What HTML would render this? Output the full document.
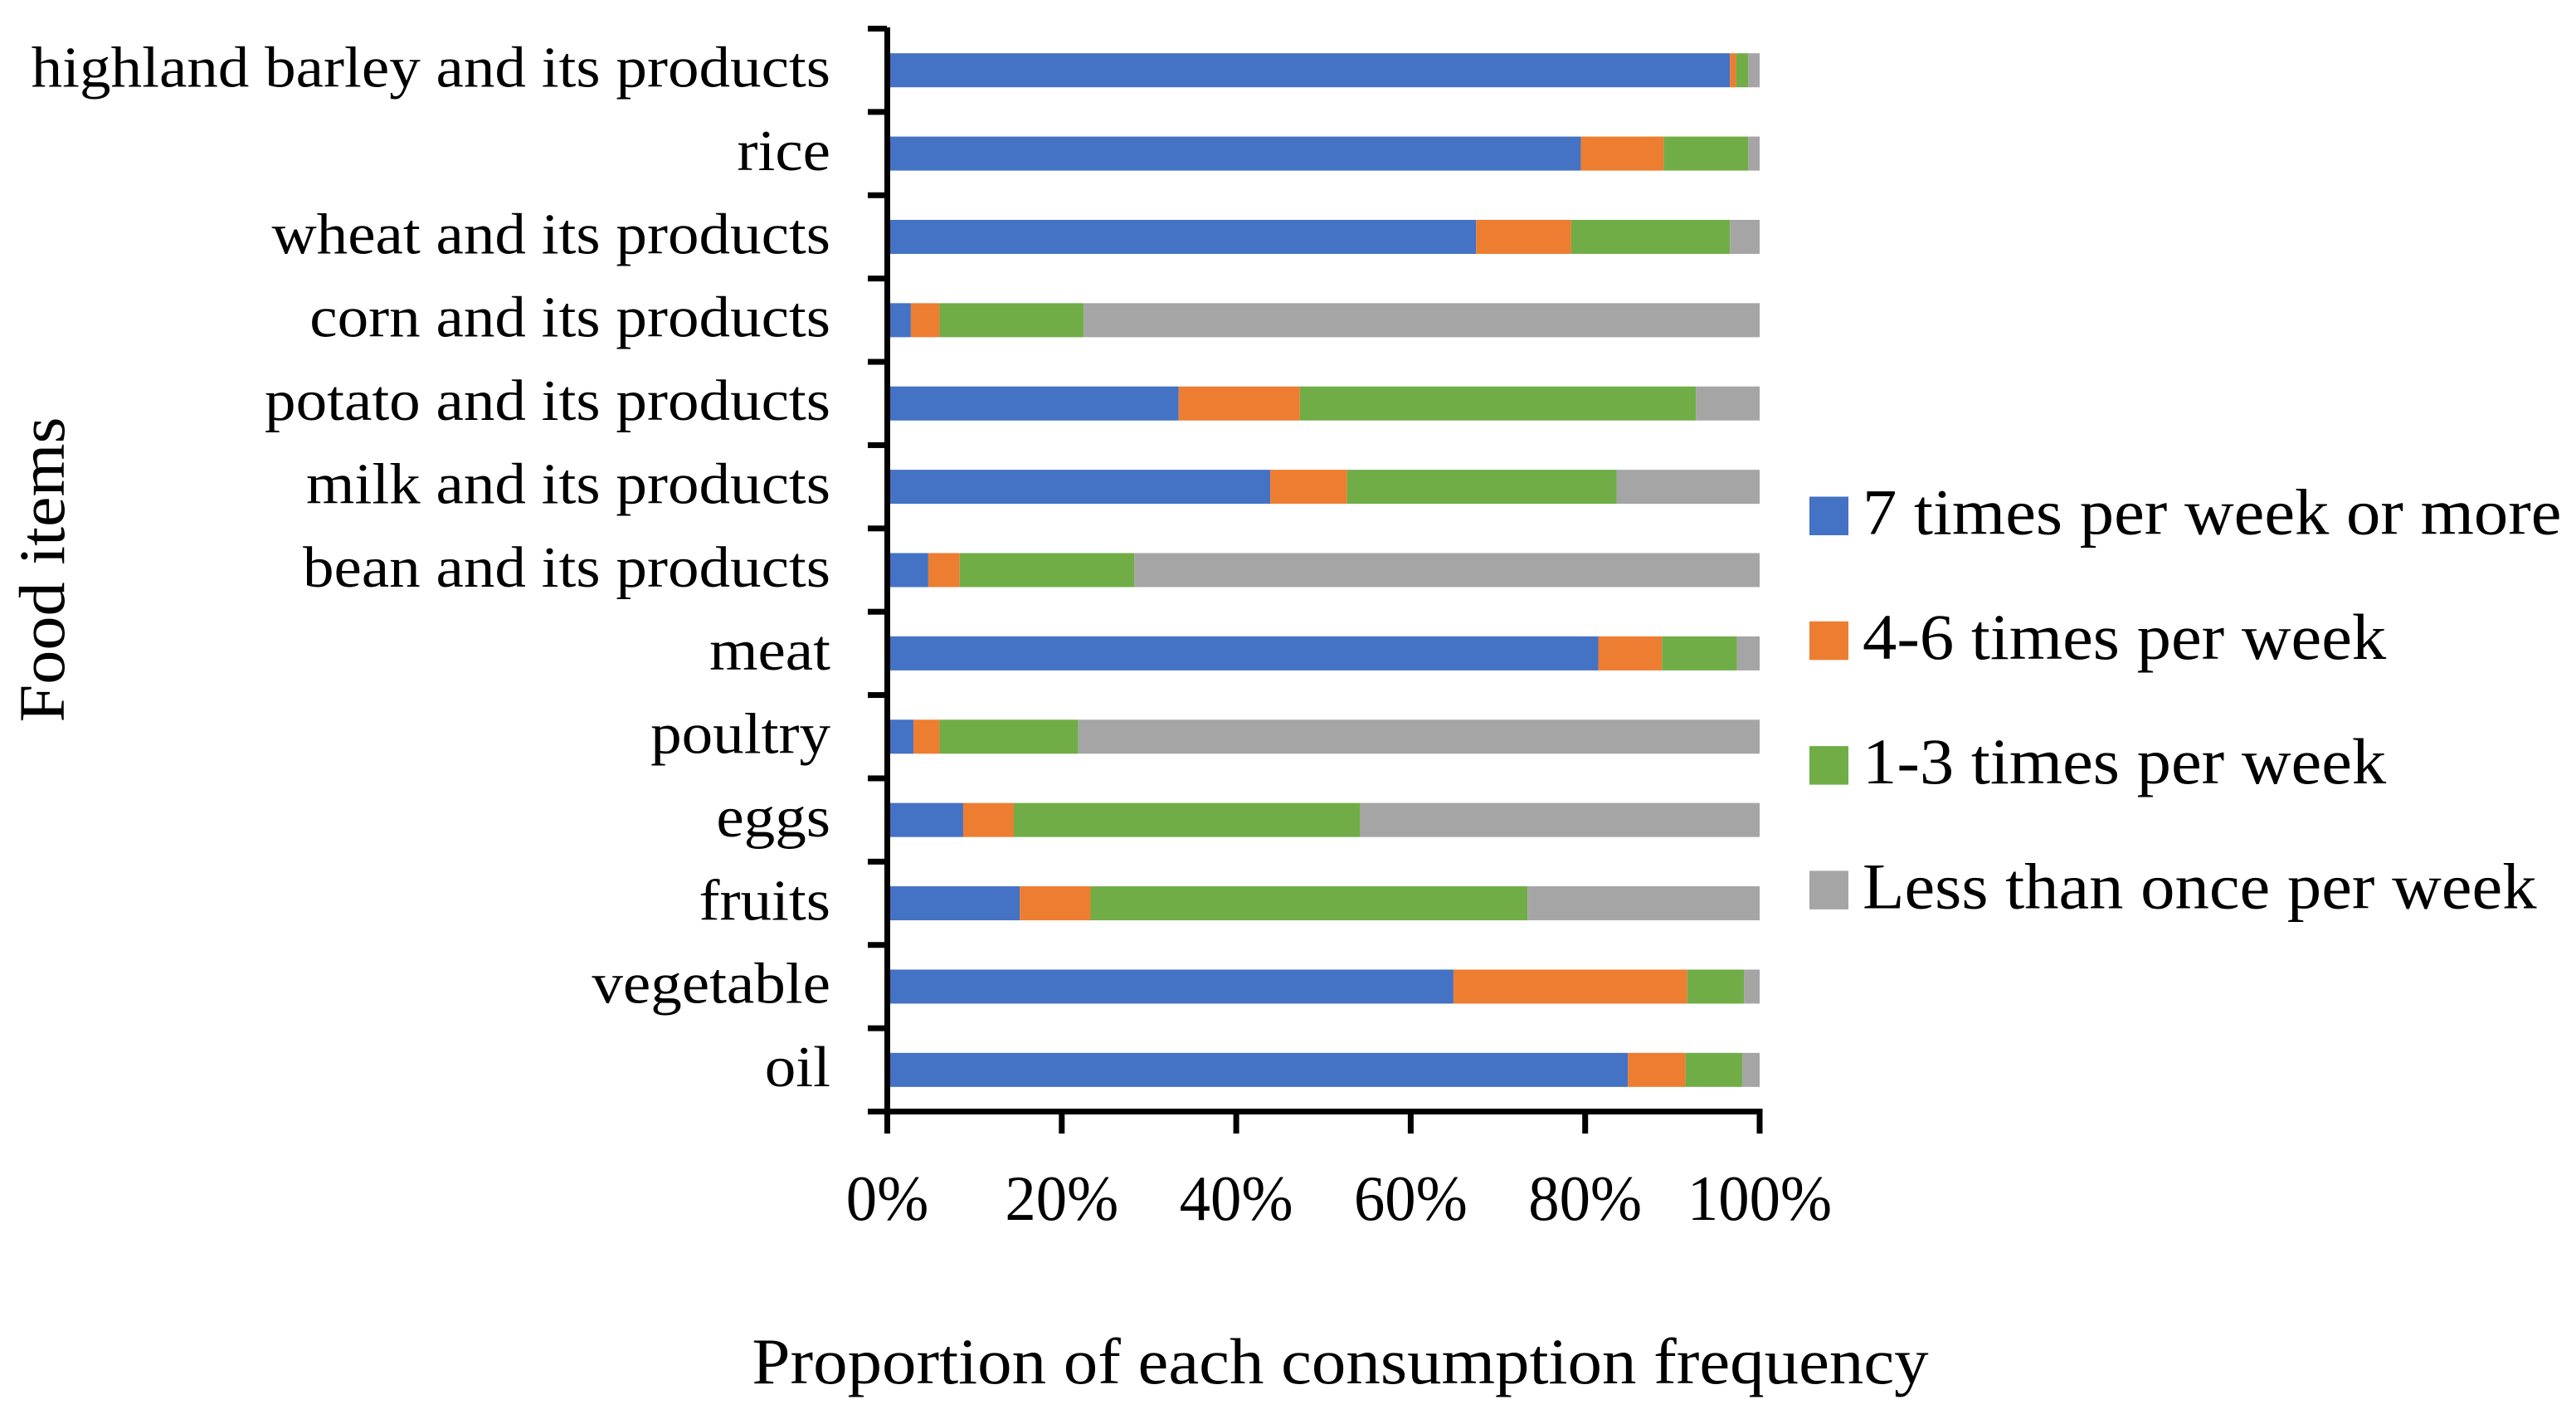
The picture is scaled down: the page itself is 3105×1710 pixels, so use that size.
<!DOCTYPE html>
<html lang="en">
<head>
<meta charset="utf-8">
<title>Food consumption frequency</title>
<style>
html,body{margin:0;padding:0;background:#fff;}
#chart{display:block;width:3105px;height:1710px;background:#fff;}
text{font-family:"Liberation Serif",serif;fill:#000;}
</style>
</head>
<body>
<svg id="chart" xmlns="http://www.w3.org/2000/svg" width="3105" height="1710" viewBox="0 0 3105 1710"></svg>
<script>
const categories = ["highland barley and its products","rice","wheat and its products","corn and its products","potato and its products","milk and its products","bean and its products","meat","poultry","eggs","fruits","vegetable","oil"];
const seriesNames = ["7 times per week or more","4-6 times per week","1-3 times per week","Less than once per week"];
const sevenPlus = [96.6,79.5,67.5,2.7,33.4,43.9,4.7,81.5,3.0,8.7,15.2,64.9,84.9];
const fourToSix = [0.7,9.5,10.9,3.3,13.9,8.8,3.6,7.3,3.0,5.8,8.1,26.8,6.6];
const oneToThree = [1.4,9.7,18.2,16.5,45.4,30.9,20.0,8.6,15.9,39.7,50.1,6.5,6.5];
const lessThanOnce = [1.3,1.3,3.4,77.5,7.3,16.4,71.7,2.6,78.1,45.8,26.6,1.8,2.0];
const xTickValues = [0,20,40,60,80,100];
const xTickLabels = ["0%","20%","40%","60%","80%","100%"];

const svg = document.getElementById('chart');
const NS = 'http://www.w3.org/2000/svg';
const seriesValues = [sevenPlus, fourToSix, oneToThree, lessThanOnce];
const seriesColors = ['#4472C4','#ED7D31','#70AD47','#A5A5A5'];
const plot = {left:1069.5, right:2121, top:34.5, bottom:1339.5};
function xScale(v){ return plot.left + (plot.right - plot.left) * v / 100; }
function bandStart(i){ return plot.top + (plot.bottom - plot.top) * i / categories.length; }
const bandH = (plot.bottom - plot.top) / categories.length;
const barH = 41;

function rect(x,y,w,h,fill){
  const r = document.createElementNS(NS,'rect');
  r.setAttribute('x',x); r.setAttribute('y',y);
  r.setAttribute('width',w); r.setAttribute('height',h);
  r.setAttribute('fill',fill);
  svg.appendChild(r);
  return r;
}
function label(str,x,y,size,kx,anchor,rotate){
  const t = document.createElementNS(NS,'text');
  t.textContent = str;
  t.setAttribute('font-size',size);
  t.setAttribute('text-anchor',anchor);
  t.setAttribute('transform','translate('+x+' '+y+')'+(rotate?' rotate('+rotate+')':'')+' scale('+kx+' 1)');
  svg.appendChild(t);
  return t;
}

// stacked bars
categories.forEach(function(cat,i){
  let acc = 0;
  seriesValues.forEach(function(vals,s){
    const x0 = xScale(acc);
    acc += vals[i];
    const x1 = xScale(acc);
    const y = bandStart(i) + (bandH - barH) / 2;
    const bar = rect(x0,y,x1-x0,barH,seriesColors[s]);
    
    
  });
});

// y axis
const yAxis = rect(1066,33,7,1310,'#000');


for(let i=0;i<=categories.length;i++){
  const tick = rect(1046,bandStart(i)-3.5,23,7,'#000');
  
  
}

// x axis
const xAxis = rect(1046,1336,1078,7,'#000');


xTickValues.forEach(function(v,i){
  const tick = rect(xScale(v)-3.5,1336,7,30,'#000');
  
  
  const tl = label(xTickLabels[i],xScale(v),1470,77,0.97,'middle');
  
  
});

// category labels
categories.forEach(function(cat,i){
  const t = label(cat,1001,bandStart(i)+70,70,1.073,'end');
  
  
});

// legend
seriesNames.forEach(function(name,s){
  const top = 598.5 + s * 150.3;
  const sw = rect(2181,top,47,46.5,seriesColors[s]);
  
  
  const t = label(name,2245,top+45,78,1.06,'start');
  
  
});

// axis titles
const xTitle = label('Proportion of each consumption frequency',1615.5,1667,78,1.063,'middle');


const yTitle = label('Food items',77,686.5,78,1.055,'middle',-90);


</script>
</body>
</html>
